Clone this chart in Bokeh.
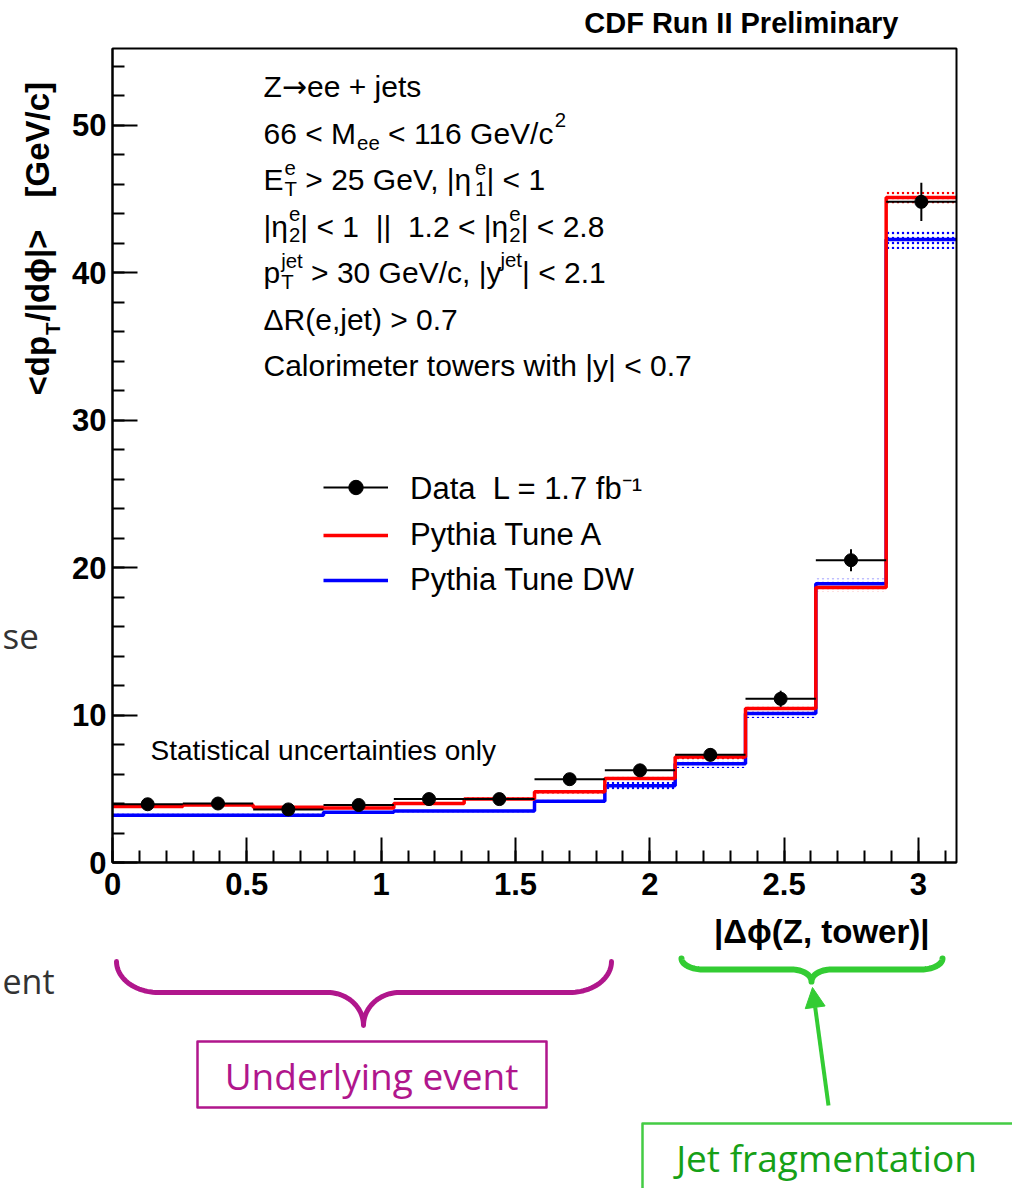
import numpy as np
from bokeh.plotting import figure
from bokeh.models import (Range1d, FixedTicker, Label, PolyAnnotation, Arrow, NormalHead,
                          Legend, LegendItem, CustomJSTickFormatter, BoxAnnotation)
from bokeh.embed import file_html
from bokeh.resources import INLINE

# ---------------- data ----------------
n_bins = 12
edges = np.linspace(0, np.pi, n_bins + 1)
data_y = [3.95, 4.0, 3.6, 3.9, 4.3, 4.3, 5.65, 6.25, 7.3, 11.1, 20.5, 44.8]
data_err = [0.25, 0.25, 0.25, 0.25, 0.3, 0.3, 0.35, 0.4, 0.45, 0.55, 0.75, 1.3]
tuneA = [3.8, 3.9, 3.75, 3.7, 4.0, 4.3, 4.8, 5.7, 7.15, 10.45, 18.65, 45.1]
tuneA_err = [0.1, 0.1, 0.1, 0.1, 0.1, 0.1, 0.12, 0.15, 0.2, 0.25, 0.3, 0.4]
tuneDW = [3.2, 3.2, 3.2, 3.4, 3.5, 3.5, 4.15, 5.2, 6.7, 10.1, 18.9, 42.25]
tuneDW_err = [0.1, 0.1, 0.1, 0.1, 0.1, 0.1, 0.12, 0.3, 0.3, 0.3, 0.35, 0.65]
x_ticks = [0, 0.5, 1, 1.5, 2, 2.5, 3]
y_ticks = [0, 10, 20, 30, 40, 50]
XMAX = np.pi
YMAX = 55.2

left = edges[:-1]
right = edges[1:]
centers = (left + right) / 2

# ---------------- geometry (pixel <-> data) ----------------
W, H = 1012, 1188
FL, FR, FT, FB = 112, 956, 48, 862   # where the histogram box sits on the page


def DX(px):
    return (px - FL) / (FR - FL) * XMAX


def DY(py):
    return (FB - py) / (FB - FT) * YMAX


# the plotting frame spans the whole page; axes are fixed at x=0 / y=0
p = figure(width=W, height=H, x_range=Range1d(DX(0), DX(W)), y_range=Range1d(DY(H), DY(0)),
           output_backend="svg", toolbar_location=None, min_border=0, title_location=None)
p.grid.visible = False
p.outline_line_color = None
p.background_fill_color = "white"
p.border_fill_color = "white"

FONT = "Liberation Sans"

for ax in (p.xaxis[0], p.yaxis[0]):
    ax.fixed_location = 0
    ax.axis_line_width = 2
    ax.major_tick_line_width = 2
    ax.minor_tick_line_width = 2
    ax.major_tick_in = 25
    ax.major_tick_out = 0
    ax.minor_tick_in = 12
    ax.minor_tick_out = 0
    ax.major_label_text_font = FONT
    ax.major_label_text_font_style = "bold"
    ax.major_label_text_font_size = "31px"
    ax.major_label_text_color = "black"

p.xaxis.bounds = (0, XMAX)
p.yaxis.bounds = (0, YMAX)
p.xaxis.ticker = FixedTicker(ticks=x_ticks, minor_ticks=[round(0.1 * i, 1) for i in range(32)])
p.xaxis.formatter = CustomJSTickFormatter(code="return String(Math.round(tick*10)/10)")
p.xaxis.major_label_standoff = 10
p.yaxis.ticker = FixedTicker(ticks=y_ticks, minor_ticks=list(range(0, 56, 2)))
p.yaxis.major_label_standoff = 6

# frame box
p.add_layout(BoxAnnotation(left=0, right=XMAX, bottom=0, top=YMAX, fill_alpha=0,
                           line_color="black", line_alpha=1, line_width=2, level="overlay"))

# ---------------- bands ----------------
p.quad(left=left, right=right, bottom=np.array(tuneDW) - tuneDW_err, top=np.array(tuneDW) + tuneDW_err,
       fill_alpha=0, line_alpha=0, hatch_pattern="dot", hatch_color="blue", hatch_scale=5,
       hatch_weight=1.5)
p.quad(left=left, right=right, bottom=np.array(tuneA) - tuneA_err, top=np.array(tuneA) + tuneA_err,
       fill_alpha=0, line_alpha=0, hatch_pattern="dot", hatch_color="red", hatch_scale=5,
       hatch_weight=1.5)

# ---------------- histograms ----------------
blue_r = p.step(x=edges, y=tuneDW + [tuneDW[-1]], mode="after", line_color="#0000FF", line_width=3.5)
red_r = p.step(x=edges, y=tuneA + [tuneA[-1]], mode="after", line_color="#FF0000", line_width=3.5)

# ---------------- data ----------------
dy = np.array(data_y)
de = np.array(data_err)
hseg = p.segment(x0=left, x1=right, y0=dy, y1=dy, line_color="black", line_width=2)
p.segment(x0=centers, x1=centers, y0=dy - de, y1=dy + de, line_color="black", line_width=2)
sc = p.scatter(x=centers, y=dy, size=13, color="black")

legend = Legend(items=[
    LegendItem(label="Data\u00a0 L = 1.7 fb\u207b\u00b9", renderers=[hseg, sc]),
    LegendItem(label="Pythia Tune A", renderers=[red_r]),
    LegendItem(label="Pythia Tune DW", renderers=[blue_r]),
], location=(323, H - 598), label_text_font=FONT, label_text_font_size="31px",
    label_text_color="black",
    glyph_width=65, glyph_height=36, label_height=36, label_standoff=22, spacing=9,
    padding=0, margin=0, border_line_alpha=0, background_fill_alpha=0)
p.add_layout(legend, "center")

# ---------------- text helpers ----------------
REG = {' ': 278, '<': 584, '>': 584, '=': 584, '+': 584, '|': 260, ',': 278, '.': 278, '/': 278,
       '(': 333, ')': 333, 'A': 667, 'C': 722, 'D': 722, 'E': 667, 'G': 778, 'L': 556, 'M': 833,
       'P': 667, 'R': 722, 'T': 611, 'V': 667, 'W': 944, 'Z': 611, 'a': 556, 'b': 556, 'c': 500,
       'e': 556, 'f': 278, 'h': 556, 'i': 222, 'j': 222, 'l': 222, 'm': 833, 'n': 556, 'o': 556,
       'p': 556, 'r': 333, 's': 500, 't': 278, 'u': 556, 'w': 722, 'y': 500, '\u03b7': 556,
       '\u00a0': 278, '\u2192': 838}
BOLD = {' ': 278, '<': 584, '>': 584, '|': 280, '/': 278, 'd': 611, 'p': 611, 'T': 611,
        '\u03d5': 720, '[': 333, ']': 333, 'G': 778, 'e': 556, 'V': 667, 'c': 556}


def tw(s, fs, table):
    return sum(table.get(c, 556) for c in s) * fs / 1000.0


def lab(px, py, text, fs, bold=False, align="left", color="black", font=FONT, angle=0.0):
    # py is the visual centre line of the text
    p.add_layout(Label(x=DX(px), y=DY(py), text=text, text_font=font,
                       text_font_size=f"{fs:.1f}px", text_font_style="bold" if bold else "normal",
                       text_align=align, text_baseline="middle", text_color=color, angle=angle))


def put(x, cy, s, fs, table, bold=False, font=FONT):
    lead = len(s) - len(s.lstrip(' '))
    x += tw(s[:lead], fs, table)
    s = s.lstrip(' ')
    if s:
        lab(x, cy, s, fs, bold, font=font)
    return x + tw(s, fs, table)


def rich(x0, cy, parts, fs=30):
    x = x0
    small = fs * 0.68
    for part in parts:
        if isinstance(part, str):
            x = put(x, cy, part, fs, REG)
        elif part[0] == "sym":
            x = put(x, cy, part[1], fs, REG, font="DejaVu Sans")
        elif part[0] == "sub":
            x = put(x + 1, cy + 0.33 * fs, part[1], small, REG)
        elif part[0] == "sup":
            x = put(x - 1, cy - 0.42 * fs, part[1], small, REG)
        else:
            x1 = put(x + 1, cy - 0.40 * fs, part[1], small, REG)
            x2 = put(x + 1, cy + 0.30 * fs, part[2], small, REG)
            x = max(x1, x2)


lines = [
    ["Z", ("sym", "\u2192"), "ee + jets"],
    ["66 < M", ("sub", "ee"), " < 116 GeV/c", ("sup", "2")],
    ["E", ("ss", "e", "T"), " > 25 GeV, |\u03b7", ("ss", "e", "1"), "| < 1"],
    ["|\u03b7", ("ss", "e", "2"), "| < 1 \u00a0||\u00a0 1.2 < |\u03b7", ("ss", "e", "2"), "| < 2.8"],
    ["p", ("ss", "jet", "T"), " > 30 GeV/c, |y", ("sup", "jet"), "| < 2.1"],
    ["\u0394R(e,jet) > 0.7"],
    ["Calorimeter towers with |y| < 0.7"],
]
for i, ln in enumerate(lines):
    rich(263, 86 + 46.5 * i, ln, fs=30)

lab(150, 750, "Statistical uncertainties only", 28)
lab(898, 22, "CDF Run II Preliminary", 29, bold=True, align="right")
lab(929, 931, "|\u0394\u03d5(Z, tower)|", 33, bold=True, align="right")

# rotated y-axis title
YC = 37
fsy = 33
yy = 395
for seg, kind in [("<dp", "n"), ("T", "sub"), ("/|d\u03d5|>", "n")]:
    if kind == "n":
        lab(YC, yy, seg, fsy, bold=True, angle=np.pi / 2)
        yy -= tw(seg, fsy, BOLD)
    else:
        lab(YC + 15, yy - 1, seg, fsy * 0.62, bold=True, angle=np.pi / 2)
        yy -= tw(seg, fsy * 0.62, BOLD) + 2
lab(YC, 197, "[GeV/c]", fsy, bold=True, angle=np.pi / 2)


# ---------------- slide annotations ----------------
def brace(xl, xr, xt, ytop, ymid, ytip, r1, r2, n=24):
    t = np.linspace(0, np.pi / 2, n)
    pts = []
    pts += list(zip(xl + r1 - r1 * np.cos(t), ytop + (ymid - ytop) * np.sin(t)))
    pts += list(zip(xt - r2 + r2 * np.sin(t), ytip - (ytip - ymid) * np.cos(t)))
    pts += list(zip((xt + r2 - r2 * np.sin(t))[::-1], (ytip - (ytip - ymid) * np.cos(t))[::-1]))
    pts += list(zip((xr - r1 + r1 * np.cos(t))[::-1], (ytop + (ymid - ytop) * np.sin(t))[::-1]))
    xs = [DX(a) for a, b in pts]
    ys = [DY(b) for a, b in pts]
    return xs + xs[::-1], ys + ys[::-1]


def poly(xs, ys, color, lw):
    p.add_layout(PolyAnnotation(xs=xs, ys=ys, xs_units="data", ys_units="data", fill_alpha=0,
                                line_color=color, line_alpha=1, line_width=lw, line_join="round",
                                line_cap="round", level="overlay"))


def rect(x0, y0, x1, y1, color, lw):
    poly([DX(x0), DX(x1), DX(x1), DX(x0)], [DY(y0), DY(y0), DY(y1), DY(y1)], color, lw)


PURPLE = "#B0168C"
GREEN = "#33CC33"
bx, by = brace(116, 611, 363, 961, 992, 1025, 42, 36)
poly(bx, by, PURPLE, 5)
rect(197, 1041, 546, 1107, PURPLE, 2.5)
lab(371, 1075, "Underlying event", 37, color=PURPLE, font="Open Sans", align="center")

gx, gy = brace(681, 942, 811, 958, 969, 981, 22, 20)
poly(gx, gy, GREEN, 6)
p.add_layout(Arrow(x_start=DX(828), y_start=DY(1105), x_end=DX(812), y_end=DY(987),
                   line_color=GREEN, line_width=4,
                   end=NormalHead(size=20, fill_color=GREEN, line_color=GREEN)))
rect(642, 1123, 1016, 1195, "#44CC44", 2.5)
lab(826, 1157, "Jet fragmentation", 37, color="#16A016", font="Open Sans", align="center")

lab(2, 635, "se", 35, color="#333333", font="Open Sans", align="left")
lab(2, 980, "ent", 34, color="#333333", font="Open Sans", align="left")

open("out.html", "w").write(file_html(p, INLINE))
